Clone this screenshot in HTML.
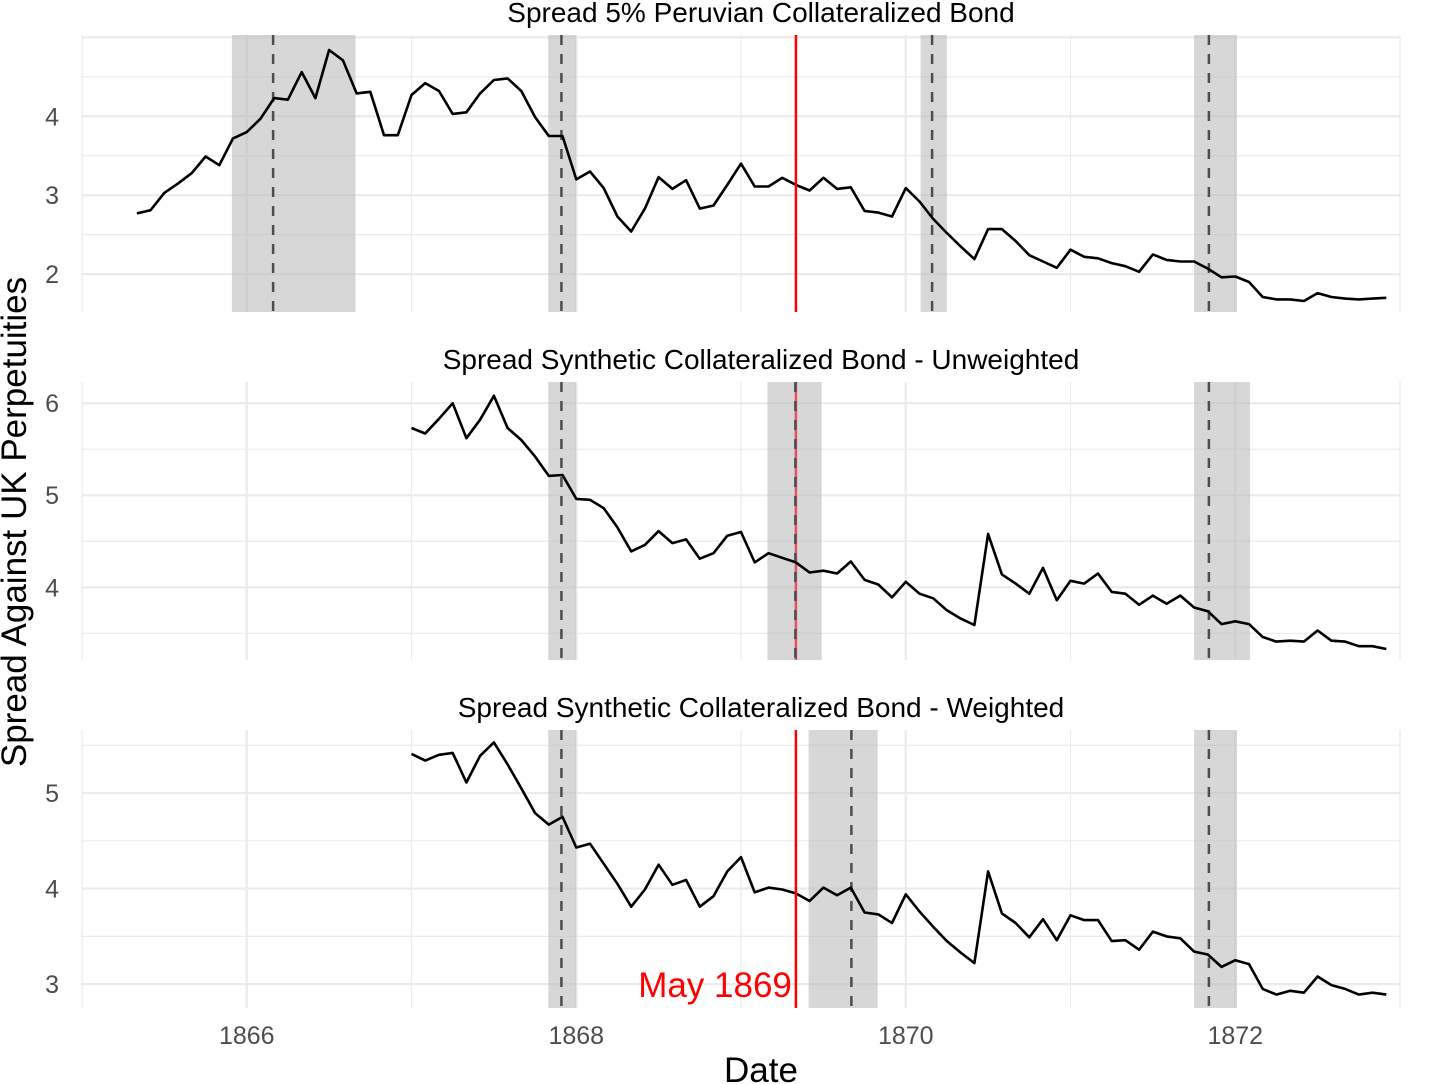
<!DOCTYPE html>
<html><head><meta charset="utf-8">
<style>
html,body{margin:0;padding:0;background:#fff;}
svg{display:block;font-family:"Liberation Sans",Arial,sans-serif;}
</style></head>
<body>
<svg id="chart" width="1451" height="1084" viewBox="0 0 1451 1084" xmlns="http://www.w3.org/2000/svg">
<text x="26" y="522" transform="rotate(-90 26 522)" text-anchor="middle" font-size="35" fill="#000">Spread Against UK Perpetuities</text>
<text x="761" y="1082" text-anchor="middle" font-size="35" fill="#000">Date</text>
</svg>
<script>
// ---- data ----
const xTickYears = [1866, 1868, 1870, 1872];
const xTickLabels = ["1866", "1868", "1870", "1872"];
const p1Start = 1865 + 4/12;
const p1Values = [2.77,2.81,3.03,3.15,3.28,3.49,3.38,3.72,3.80,3.97,4.23,4.21,4.56,4.23,4.84,4.71,4.29,4.31,3.76,3.76,4.27,4.42,4.32,4.03,4.05,4.29,4.46,4.48,4.32,3.99,3.75,3.75,3.20,3.30,3.09,2.73,2.54,2.83,3.23,3.08,3.19,2.83,2.87,3.13,3.40,3.11,3.11,3.22,
3.13,3.06,3.22,3.08,3.10,2.80,2.78,2.73,3.09,2.92,2.70,2.52,2.35,2.19,2.57,2.57,2.42,2.24,2.16,2.08,2.31,2.22,2.20,2.14,2.10,2.03,2.25,2.18,2.16,2.16,2.07,1.96,1.97,1.90,1.71,1.68,1.68,1.66,1.76,1.71,1.69,1.68,1.69,1.70];
const p2Start = 1867;
const p2Values = [5.73,5.67,5.83,6.00,5.62,5.82,6.08,5.73,5.60,5.42,5.21,5.22,4.96,4.95,4.86,4.65,4.39,4.46,4.61,4.48,4.52,4.31,4.37,4.56,4.60,4.27,4.37,4.32,4.27,4.16,4.18,4.15,4.28,4.08,4.03,3.89,
4.06,3.93,3.88,3.75,3.66,3.59,4.58,4.14,4.04,3.93,4.21,3.86,4.07,4.04,4.15,3.95,3.93,3.81,3.91,3.82,3.91,3.78,3.74,3.60,3.63,3.60,3.46,3.41,3.42,3.41,3.53,3.42,3.41,3.36,3.36,3.33];
const p3Start = 1867;
const p3Values = [5.41,5.34,5.40,5.42,5.11,5.39,5.53,5.30,5.05,4.79,4.67,4.75,4.43,4.47,4.26,4.05,3.81,3.99,4.25,4.04,4.09,3.81,3.92,4.18,4.33,3.96,4.01,3.99,3.95,3.87,4.01,3.93,4.01,3.75,3.73,3.64,
3.94,3.76,3.60,3.45,3.33,3.22,4.18,3.74,3.64,3.49,3.68,3.46,3.72,3.67,3.67,3.45,3.46,3.36,3.55,3.50,3.48,3.34,3.31,3.18,3.25,3.21,2.95,2.89,2.93,2.91,3.08,2.99,2.95,2.89,2.91,2.89];
const p1Shades = [[1865.91,1866.66],[1867.83,1868.0],[1870.09,1870.25],[1871.75,1872.01]];
const p1Dashes = [1866.16,1867.91,1870.16,1871.84];
const p2Shades = [[1867.83,1868.0],[1869.16,1869.49],[1871.75,1872.09]];
const p2Dashes = [1867.91,1869.33,1871.84];
const p3Shades = [[1867.83,1868.0],[1869.41,1869.83],[1871.75,1872.01]];
const p3Dashes = [1867.91,1869.67,1871.84];
const eventDate = 1869 + 4/12;
const p1Ticks = [2,3,4];
const p2Ticks = [4,5,6];
const p3Ticks = [3,4,5];
// ---- layout ----
const NS = "http://www.w3.org/2000/svg";
const svg = document.getElementById('chart');
const X0 = 82, X1 = 1400, Y0year = 1865, Y1year = 1873;
function xScale(t){ return X0 + (t - Y0year) / (Y1year - Y0year) * (X1 - X0); }
function mk(tag, attrs, parent){ const e = document.createElementNS(NS, tag); for (const k in attrs) e.setAttribute(k, attrs[k]); (parent||svg).appendChild(e); return e; }

function panel(cfg){
  const g = mk('g', {});
  
  
  const ys = v => cfg.top + (cfg.vmax - v) / (cfg.vmax - cfg.vmin) * (cfg.bottom - cfg.top);
  for (let yr = 1865; yr <= 1873; yr += 2) {
    const l = mk('line', {x1:xScale(yr), x2:xScale(yr), y1:cfg.top, y2:cfg.bottom, stroke:'#ebebeb', 'stroke-width':1.2}, g);
    
    
  }
  xTickYears.forEach(yr => {
    const l = mk('line', {x1:xScale(yr), x2:xScale(yr), y1:cfg.top, y2:cfg.bottom, stroke:'#ebebeb', 'stroke-width':2.2}, g);
    
    
  });
  const lo = Math.ceil(cfg.vmin * 2) / 2;
  for (let v = lo; v <= cfg.vmax; v += 0.5) {
    const major = Math.abs(v - Math.round(v)) < 0.01;
    const l = mk('line', {x1:X0, x2:X1, y1:ys(v), y2:ys(v), stroke:'#ebebeb', 'stroke-width': major ? 2.2 : 1.2}, g);
    
    
  }
  cfg.ticks.forEach(v => {
    const t = mk('text', {x:59, y:ys(v)+9, 'text-anchor':'end', 'font-size':25, fill:'#4d4d4d'}, g);
    t.textContent = String(v);
    
    
  });
  cfg.shades.forEach(s => {
    const r = mk('rect', {x:xScale(s[0]), y:cfg.top, width:xScale(s[1])-xScale(s[0]), height:cfg.bottom-cfg.top, fill:'#bdbdbd', 'fill-opacity':0.6}, g);
    
    
  });
  if (cfg.red) {
    const r = mk('line', {x1:xScale(eventDate), x2:xScale(eventDate), y1:cfg.top, y2:cfg.bottom, stroke:'#e8505a', 'stroke-width':2.5}, g);
    
    
  }
  cfg.dashes.forEach(d => {
    const l = mk('line', {x1:xScale(d), x2:xScale(d), y1:cfg.top, y2:cfg.bottom, stroke:'#4d4d4d', 'stroke-width':2.5, 'stroke-dasharray':'10 9'}, g);
    
    
  });
  const pts = cfg.values.map((v,i) => xScale(cfg.start + i/12).toFixed(1) + ',' + ys(v).toFixed(1)).join(' ');
  const p = mk('polyline', {points:pts, fill:'none', stroke:'#000', 'stroke-width':2.6, 'stroke-linejoin':'round'}, g);
  
  
  if (cfg.redTop) {
    const r = mk('line', {x1:xScale(eventDate), x2:xScale(eventDate), y1:cfg.top, y2:cfg.bottom, stroke:'#ff0000', 'stroke-width':2.5}, g);
    
    
  }
  const t = mk('text', {x:761, y:cfg.top-13, 'text-anchor':'middle', 'font-size':28, fill:'#000'}, g);
  t.textContent = cfg.title;
  
  
  return ys;
}

panel({name:'panel-peruvian', title:'Spread 5% Peruvian Collateralized Bond', top:35, bottom:312, vmin:1.52, vmax:5.03, ticks:p1Ticks, values:p1Values, start:p1Start, shades:p1Shades, dashes:p1Dashes, redTop:true});
panel({name:'panel-unweighted', title:'Spread Synthetic Collateralized Bond - Unweighted', top:382, bottom:660, vmin:3.21, vmax:6.23, ticks:p2Ticks, values:p2Values, start:p2Start, shades:p2Shades, dashes:p2Dashes, red:'light'});
panel({name:'panel-weighted', title:'Spread Synthetic Collateralized Bond - Weighted', top:730, bottom:1008, vmin:2.75, vmax:5.66, ticks:p3Ticks, values:p3Values, start:p3Start, shades:p3Shades, dashes:p3Dashes, redTop:true});

const lab = mk('text', {x:xScale(eventDate)-4, y:997, 'text-anchor':'end', 'font-size':35, fill:'#ff0000'});
lab.textContent = 'May 1869';



xTickYears.forEach((yr,i) => {
  const t = mk('text', {x:xScale(yr), y:1044, 'text-anchor':'middle', 'font-size':25, fill:'#4d4d4d'});
  t.textContent = xTickLabels[i];
  
  
});
</script>
</body></html>
